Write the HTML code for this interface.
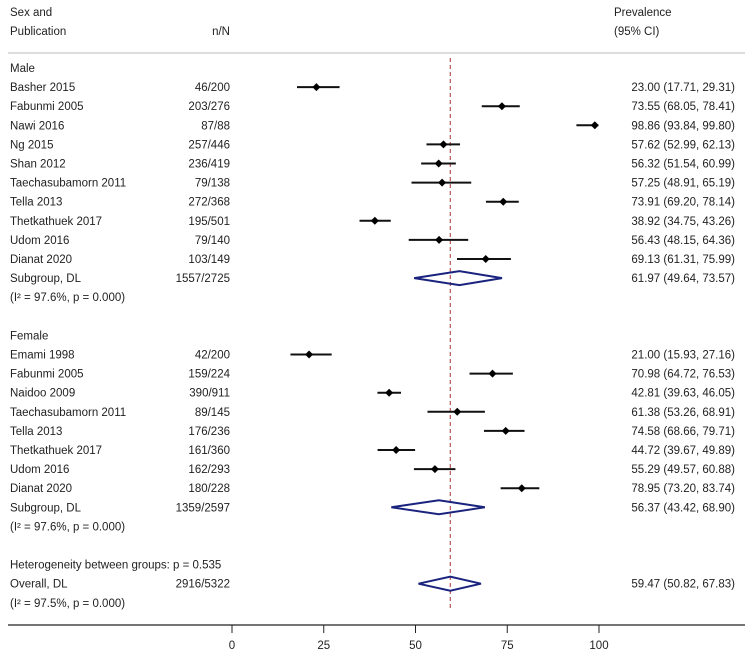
<!DOCTYPE html>
<html><head><meta charset="utf-8"><style>
body{margin:0;background:#fff;}
svg text{font-family:"Liberation Sans",sans-serif;font-size:11.5px;fill:#222;}
</style></head><body>
<svg id="chart" width="749" height="655" xmlns="http://www.w3.org/2000/svg">
<text x="10" y="16">Sex and</text>
<text x="10" y="35">Publication</text>
<text x="230" y="35" text-anchor="end">n/N</text>
<text x="614" y="16">Prevalence</text>
<text x="614" y="35">(95% CI)</text>
<line x1="8" y1="53" x2="745" y2="53" stroke="#bbb" stroke-width="1"/>
</svg>
<script>
const labels=["Male","Basher 2015","Fabunmi 2005","Nawi 2016","Ng 2015","Shan 2012","Taechasubamorn 2011","Tella 2013","Thetkathuek 2017","Udom 2016","Dianat 2020","Subgroup, DL","(I² = 97.6%, p = 0.000)","","Female","Emami 1998","Fabunmi 2005","Naidoo 2009","Taechasubamorn 2011","Tella 2013","Thetkathuek 2017","Udom 2016","Dianat 2020","Subgroup, DL","(I² = 97.6%, p = 0.000)","","Heterogeneity between groups: p = 0.535","Overall, DL","(I² = 97.5%, p = 0.000)"];
const nN=["","46/200","203/276","87/88","257/446","236/419","79/138","272/368","195/501","79/140","103/149","1557/2725","","","","42/200","159/224","390/911","89/145","176/236","161/360","162/293","180/228","1359/2597","","","","2916/5322",""];
const est=[null,23.00,73.55,98.86,57.62,56.32,57.25,73.91,38.92,56.43,69.13,61.97,null,null,null,21.00,70.98,42.81,61.38,74.58,44.72,55.29,78.95,56.37,null,null,null,59.47,null];
const lo=[null,17.71,68.05,93.84,52.99,51.54,48.91,69.20,34.75,48.15,61.31,49.64,null,null,null,15.93,64.72,39.63,53.26,68.66,39.67,49.57,73.20,43.42,null,null,null,50.82,null];
const hi=[null,29.31,78.41,99.80,62.13,60.99,65.19,78.14,43.26,64.36,75.99,73.57,null,null,null,27.16,76.53,46.05,68.91,79.71,49.89,60.88,83.74,68.90,null,null,null,67.83,null];
const kind=["h","s","s","s","s","s","s","s","s","s","s","d","t","","h","s","s","s","s","s","s","s","s","d","t","","t","d","t"];
const ticks=[0,25,50,75,100];
const overall=59.47;
const svg=document.getElementById('chart');
const NS="http://www.w3.org/2000/svg";
const X=v=>232+v*3.67;
const Y=i=>68+i*19.1;
function mk(t,a){const e=document.createElementNS(NS,t);for(const k in a)e.setAttribute(k,a[k]);svg.appendChild(e);return e;}
let l=mk('line',{x1:X(overall),x2:X(overall),y1:58,y2:Y(labels.length-1)+8,stroke:'#a33','stroke-width':1,'stroke-dasharray':'4,3'});


labels.forEach((s,i)=>{
 const y=Y(i);
 if(s){const t=mk('text',{x:10,y:y+4});t.textContent=s;
  
  }
 if(nN[i]){const t=mk('text',{x:230,y:y+4,'text-anchor':'end'});t.textContent=nN[i];
  
  }
 if(est[i]!==null){
  const t=mk('text',{x:735,y:y+4,'text-anchor':'end'});t.textContent=est[i].toFixed(2)+' ('+lo[i].toFixed(2)+', '+hi[i].toFixed(2)+')';
  
  
  if(kind[i]==='s'){
   const c=mk('line',{x1:X(lo[i]),x2:X(hi[i]),y1:y,y2:y,stroke:'#111','stroke-width':2});
   
   
   const m=X(est[i]);
   const d=mk('polygon',{points:`${m-4},${y} ${m},${y-4} ${m+4},${y} ${m},${y+4}`,fill:'#000'});
   
   
  } else {
   const m=X(est[i]);
   const d=mk('polygon',{points:`${X(lo[i])},${y} ${m},${y-7} ${X(hi[i])},${y} ${m},${y+7}`,fill:'none',stroke:'#1a237e','stroke-width':2});
   
   
  }
 }
});
const ax=mk('line',{x1:8,x2:745,y1:625,y2:625,stroke:'#222','stroke-width':1.2});


ticks.forEach(v=>{
 const tk=mk('line',{x1:X(v),x2:X(v),y1:625,y2:633,stroke:'#222','stroke-width':1});
 
 
 const t=mk('text',{x:X(v),y:649,'text-anchor':'middle'});t.textContent=v;
 
 
});
</script>
</body></html>
